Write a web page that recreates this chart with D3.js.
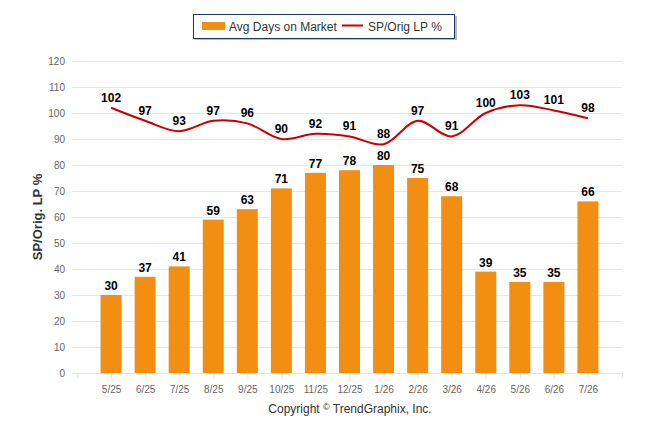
<!DOCTYPE html>
<html lang="en">
<head>
    <meta charset="UTF-8">
    <title>Avg Days on Market / SP-Orig LP %</title>
    <script src="https://d3js.org/d3.v7.min.js"></script>
    <style>
        body { margin: 0; background: #fff; }
        svg { font-family: "Liberation Sans", Arial, sans-serif; }
    </style>
</head>
<body>
<script>
    // Data
    let months = ["5/25", "6/25", "7/25", "8/25", "9/25", "10/25", "11/25", "12/25",
                  "1/26", "2/26", "3/26", "4/26", "5/26", "6/26", "7/26"];
    let daysOnMarket = [30, 37, 41, 59, 63, 71, 77, 78, 80, 75, 68, 39, 35, 35, 66];
    let spOrigLp = [102, 97, 93, 97, 96, 90, 92, 91, 88, 97, 91, 100, 103, 101, 98];
    let yTicks = [0, 10, 20, 30, 40, 50, 60, 70, 80, 90, 100, 110, 120];

    let width = 646;
    let height = 434;
    let margin = {top: 61, right: 24, bottom: 61, left: 77};

    let svg = d3.select("body").append("svg")
        .attr("width", width)
        .attr("height", height);

    // x: index scale with one empty slot at each end
    let x = d3.scaleLinear()
        .domain([-1, months.length])
        .range([margin.left, width - margin.right]);

    let y = d3.scaleLinear()
        .domain([0, 120])
        .range([height - margin.bottom, margin.top]);

    let barWidth = 21;

    // Gridlines
    svg.append("g")
        .selectAll("line")
        .data(yTicks)
        .enter().append("line")
        .attr("x1", margin.left - 5)
        .attr("x2", width - margin.right)
        .attr("y1", d => Math.round(y(d)) + 0.5)
        .attr("y2", d => Math.round(y(d)) + 0.5)
        .attr("stroke", "#e6e6e6")
        .attr("stroke-width", 1);

    // Y axis labels
    svg.append("g")
        .selectAll("text")
        .data(yTicks)
        .enter().append("text")
        .attr("x", margin.left - 12)
        .attr("y", d => y(d) + 4)
        .attr("text-anchor", "end")
        .attr("font-size", 10)
        .attr("fill", "#666")
        .text(d => d);

    svg.append("text")
        .attr("transform", "translate(42," + ((margin.top + height - margin.bottom) / 2) + ") rotate(-90)")
        .attr("text-anchor", "middle")
        .attr("font-size", 13)
        .attr("font-weight", "bold")
        .attr("fill", "#333")
        .text("SP/Orig. LP %");

    // X axis
    let xAxis = svg.append("g")
        .attr("transform", "translate(0," + (height - margin.bottom) + ")")
        .call(d3.axisBottom(x)
            .tickValues(d3.range(-1, months.length + 1))
            .tickSize(5)
            .tickFormat(i => months[i] || ""));
    xAxis.select(".domain").attr("stroke", "#e6e6e6").attr("d",
        "M" + x(-1) + ",0.5H" + x(months.length));
    xAxis.selectAll(".tick line").attr("stroke", "#e6e6e6");
    xAxis.selectAll(".tick text")
        .attr("dy", "1.2em")
        .attr("font-size", 10)
        .attr("font-family", "Liberation Sans, Arial, sans-serif")
        .attr("fill", "#666");

    // Bars
    svg.append("g")
        .selectAll("rect")
        .data(daysOnMarket)
        .enter().append("rect")
        .attr("x", (d, i) => x(i) - barWidth / 2)
        .attr("y", d => y(d))
        .attr("width", barWidth)
        .attr("height", d => y(0) - y(d))
        .attr("fill", "#f28f13");

    svg.append("g")
        .selectAll("text")
        .data(daysOnMarket)
        .enter().append("text")
        .attr("x", (d, i) => x(i))
        .attr("y", d => y(d) - 5)
        .attr("text-anchor", "middle")
        .attr("font-size", 12)
        .attr("font-weight", "bold")
        .attr("fill", "#000")
        .text(d => d);

    // Line
    let line = d3.line()
        .x((d, i) => x(i))
        .y(d => y(d))
        .curve(d3.curveCatmullRom.alpha(0.5));

    svg.append("path")
        .datum(spOrigLp)
        .attr("d", line)
        .attr("fill", "none")
        .attr("stroke", "#cc0000")
        .attr("stroke-width", 2);

    svg.append("g")
        .selectAll("text")
        .data(spOrigLp)
        .enter().append("text")
        .attr("x", (d, i) => x(i))
        .attr("y", d => y(d) - 6)
        .attr("text-anchor", "middle")
        .attr("font-size", 12)
        .attr("font-weight", "bold")
        .attr("fill", "#000")
        .text(d => d);

    // Legend
    let legend = svg.append("g").attr("transform", "translate(193,14)");
    legend.append("rect")
        .attr("x", 2).attr("y", 2)
        .attr("width", 262).attr("height", 24)
        .attr("fill", "#bbb");
    legend.append("rect")
        .attr("x", 0.5).attr("y", 0.5)
        .attr("width", 261).attr("height", 24)
        .attr("fill", "#fff")
        .attr("stroke", "#1f3a5f");
    legend.append("rect")
        .attr("x", 9).attr("y", 8)
        .attr("width", 23).attr("height", 8)
        .attr("fill", "#f28f13");
    legend.append("text")
        .attr("x", 36).attr("y", 16.5)
        .attr("font-size", 12)
        .attr("fill", "#333")
        .text("Avg Days on Market");
    legend.append("line")
        .attr("x1", 149).attr("x2", 170)
        .attr("y1", 11.5).attr("y2", 11.5)
        .attr("stroke", "#cc0000")
        .attr("stroke-width", 2);
    legend.append("text")
        .attr("x", 175).attr("y", 16.5)
        .attr("font-size", 12)
        .attr("fill", "#333")
        .text("SP/Orig LP %");

    // Credit
    let credit = svg.append("text")
        .attr("x", 350)
        .attr("y", 413)
        .attr("text-anchor", "middle")
        .attr("font-size", 12)
        .attr("fill", "#333");
    credit.append("tspan").text("Copyright ");
    credit.append("tspan").attr("font-size", 9).attr("dy", -3).text("©");
    credit.append("tspan").attr("dy", 3).text(" TrendGraphix, Inc.");
</script>
</body>
</html>
